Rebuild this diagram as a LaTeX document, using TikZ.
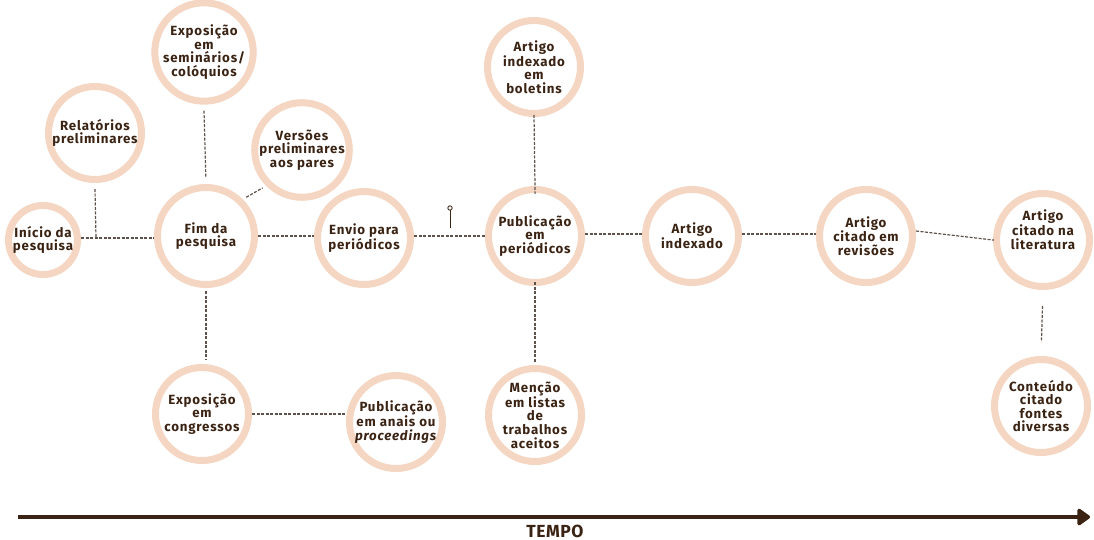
\documentclass[tikz,border=0pt]{standalone}
\usepackage{fontspec}
\setmainfont{Fira Sans}
\usetikzlibrary{arrows.meta}
\definecolor{ring}{HTML}{F4D6C2}
\definecolor{ink}{HTML}{3A2313}
\definecolor{dash}{HTML}{5E524B}
\tikzset{
  bub/.style={circle, draw=ring, line width=7pt, minimum size=93pt, inner sep=0pt,
    align=center, text=ink, font=\fontsize{13.3}{13.6}\selectfont\bfseries\addfontfeatures{LetterSpace=6}},
  conn/.style={draw=dash, line width=1.2pt, dash pattern=on 3pt off 1.5pt},
}
\begin{document}
\begin{tikzpicture}[x=1pt,y=-1pt]
\useasboundingbox (0,0) rectangle (1094,540);
% nodes
\node[bub, minimum size=69pt] (inicio) at (43,240) {Início da\\pesquisa};
\node[bub, minimum size=97pt] (fim) at (206,236) {Fim da\\pesquisa};
\node[bub] (relat) at (95,133) {Relatórios\\preliminares};
\node[bub] (semin) at (204,52) {Exposição\\em\\seminários/\\colóquios};
\node[bub] (versoes) at (302,150) {Versões\\preliminares\\aos pares};
\node[bub] (envio) at (364,238) {Envio para\\periódicos};
\node[bub] (pub) at (535,236) {Publicação\\em\\periódicos};
\node[bub] (bolet) at (534,67) {Artigo\\indexado\\em\\boletins};
\node[bub] (mencao) at (535,415) {Menção\\em listas\\de\\trabalhos\\aceitos};
\node[bub] (index) at (692,236) {Artigo\\indexado};
\node[bub] (revis) at (866,236) {Artigo\\citado em\\revisões};
\node[bub] (liter) at (1043,240) {Artigo\\citado na\\literatura\\[7pt]};
\node[bub] (conteudo) at (1041,406) {Conteúdo\\citado\\fontes\\diversas};
\node[bub] (congr) at (202,414) {Exposição\\em\\congressos};
\node[bub] (anais) at (396,422) {Publicação\\em anais ou\\\textit{proceedings}};
% connectors
\coordinate (j1) at (96,238);
\coordinate (h1) at (0,236);
\coordinate (h2) at (0,234);
\draw[conn] (inicio.east|-j1) -- (fim.west|-j1);
\draw[conn] (relat.south) ++(0,6) -- (j1);
\draw[conn, shorten >=6pt] (semin.south) ++(0,6) -- (fim.north);
\draw[conn, shorten <=4pt, shorten >=4pt] (fim.north east) -- (versoes.south west);
\draw[conn] (fim.east|-h1) -- (envio.west|-h1);
\draw[conn, shorten <=3pt, shorten >=5pt] (fim.south) -- (congr.north-|fim.south);
\draw[conn] (congr.east) -- (anais.west|-congr.east);
\draw[conn] (envio.east|-h1) -- (pub.west|-h1);
\draw[conn, shorten >=-8pt] (bolet.south) ++(0,-2) -- (pub.north);
\draw[conn, shorten <=-4pt, shorten >=2pt] (pub.south) -- (mencao.north);
\draw[conn] (pub.east|-h2) -- (index.west|-h2);
\draw[conn] (index.east|-h2) -- (revis.west|-h2);
\draw[conn, shorten >=-1pt] (revis.east)++(0,-5) -- (liter.west);
\draw[conn, shorten <=16pt, shorten >=14pt] (liter.south) -- (conteudo.north);
% pin
\coordinate (pintop) at (450,208);
\draw[ink, line width=1pt] (450,228) -- (pintop);
\draw[ink, line width=0.8pt, fill=white] (pintop) circle (2.2pt);
% time arrow
\coordinate (t0) at (18,517);
\coordinate (t1) at (1090,517);
\draw[ink, line width=4.8pt, -{Triangle[length=14pt,width=19pt,round]}] (t0) -- (t1);
\node[text=ink, font=\fontsize{17.5}{18}\selectfont\bfseries\addfontfeatures{LetterSpace=3}] (tempo) at (555,531) {TEMPO};
\end{tikzpicture}
\end{document}
